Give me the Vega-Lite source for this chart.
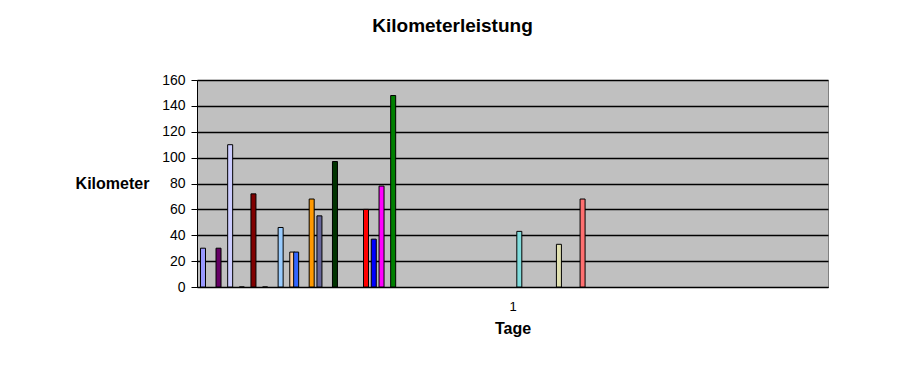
{
  "$schema": "https://vega.github.io/schema/vega-lite/v6.json",
  "width": 631,
  "height": 207,
  "autosize": {"type": "none"},
  "padding": {"left": 197, "top": 80, "right": 76, "bottom": 80},
  "background": "white",
  "title": {"text": "Kilometerleistung", "font": "Liberation Sans", "fontSize": 19, "fontWeight": "bold", "color": "black", "anchor": "middle", "dx": -60, "offset": 37},
  "config": {
    "view": {"fill": "#C0C0C0", "stroke": "#808080"},
    "font": "Liberation Sans"
  },
  "data": {"values": [
    {"series": "S1", "slot": 0, "km": 30},
    {"series": "S2", "slot": 4, "km": 30},
    {"series": "S3", "slot": 7, "km": 110},
    {"series": "S4", "slot": 10, "km": 0},
    {"series": "S5", "slot": 13, "km": 72},
    {"series": "S6", "slot": 16, "km": 0},
    {"series": "S7", "slot": 20, "km": 46},
    {"series": "S8", "slot": 23, "km": 27},
    {"series": "S9", "slot": 24, "km": 27},
    {"series": "S10", "slot": 28, "km": 68},
    {"series": "S11", "slot": 30, "km": 55},
    {"series": "S12", "slot": 34, "km": 97},
    {"series": "S13", "slot": 42, "km": 60},
    {"series": "S14", "slot": 44, "km": 37},
    {"series": "S15", "slot": 46, "km": 78},
    {"series": "S16", "slot": 49, "km": 148},
    {"series": "S17", "slot": 81.5, "km": 43},
    {"series": "S18", "slot": 91.7, "km": 33},
    {"series": "S19", "slot": 97.8, "km": 68}
  ]},
  "mark": {"type": "bar", "width": 5, "xOffset": 1, "stroke": "black", "strokeWidth": 1},
  "encoding": {
    "x": {
      "field": "slot", "type": "quantitative",
      "scale": {"domain": [0, 160], "nice": false, "zero": false},
      "axis": {
        "values": [80], "labelExpr": "'1'", "ticks": false, "grid": false,
        "domainColor": "black", "labelColor": "black", "labelFontSize": 13, "labelPadding": 13,
        "title": "Tage", "titleFontSize": 16, "titleFontWeight": "bold", "titleColor": "black", "titlePadding": 7
      }
    },
    "y": {
      "field": "km", "type": "quantitative",
      "scale": {"domain": [0, 160], "nice": false},
      "axis": {
        "values": [0, 20, 40, 60, 80, 100, 120, 140, 160],
        "grid": true, "gridColor": "black", "gridOpacity": 1, "gridWidth": 1.5,
        "domainColor": "black", "tickColor": "black", "tickSize": 6,
        "labelColor": "black", "labelFontSize": 14, "labelPadding": 6,
        "title": "Kilometer", "titleAngle": 0, "titleFontSize": 16, "titleFontWeight": "bold", "titleColor": "black",
        "titleX": -85, "titleY": 103, "titleAlign": "center", "titleBaseline": "middle"
      }
    },
    "color": {
      "field": "series", "type": "nominal", "legend": null,
      "scale": {
        "domain": ["S1","S2","S3","S4","S5","S6","S7","S8","S9","S10","S11","S12","S13","S14","S15","S16","S17","S18","S19"],
        "range": ["#9999FF","#660066","#CCCCFF","#FFFF00","#800000","#33CCCC","#99CCFF","#FFCC99","#3366FF","#FF9900","#666699","#003300","#FF0000","#0000FF","#FF00FF","#008000","#80DCDC","#E0E0B0","#FF7070"]
      }
    }
  }
}
